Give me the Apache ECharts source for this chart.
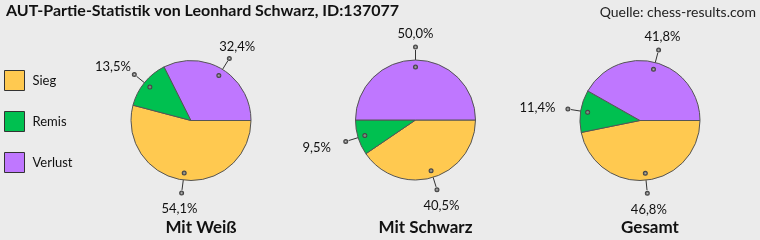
<!DOCTYPE html>
<html>
<head>
<meta charset="utf-8">
<script src="https://cdn.jsdelivr.net/npm/echarts@6/dist/echarts.min.js"></script>
<style>
html,body{margin:0;padding:0;background:#ebebeb;}
#c{width:760px;height:240px;}
</style>
</head>
<body>
<div id="c"></div>
<script>
// ---- data ----
const categories = ['Sieg', 'Remis', 'Verlust'];
const pieTitles = ['Mit Weiß', 'Mit Schwarz', 'Gesamt'];
const weissValues = [54.1, 13.5, 32.4];
const schwarzValues = [40.5, 9.5, 50.0];
const gesamtValues = [46.8, 11.4, 41.8];
const mainTitle = 'AUT-Partie-Statistik von Leonhard Schwarz, ID:137077';
const sourceText = 'Quelle: chess-results.com';

// ---- styles / layout ----
const colors = ['#FFC950', '#00C050', '#BF77FF'];
const FONT = 'Lato';
const centers = [[191, 120.5], [415.5, 120], [640, 120.5]];
const R = 60;

const allValues = [weissValues, schwarzValues, gesamtValues];
const fmt = v => v.toFixed(1).replace('.', ',') + '%';

function midAngles(vals) {
  const tot = vals.reduce((a, b) => a + b, 0);
  let acc = 0;
  return vals.map(v => { const m = (acc + v / 2) / tot * 2 * Math.PI; acc += v; return m; });
}

const transparent = { color: 'rgba(0,0,0,0)', borderWidth: 0 };
const noHide = { hideOverlap: false };
const series = [];
allValues.forEach((vals, i) => {
  series.push({
    type: 'pie', center: centers[i], radius: R, startAngle: 0, clockwise: true,
    silent: true, animation: false, avoidLabelOverlap: false,
    label: { show: false }, labelLine: { show: false },
    itemStyle: { borderColor: '#555', borderWidth: 1 },
    data: vals.map((v, k) => ({ name: categories[k], value: v, itemStyle: { color: colors[k] } }))
  });
});
allValues.forEach((vals, i) => {
  // leader lines
  series.push({
    type: 'pie', center: centers[i], radius: [0, 50], startAngle: 0, clockwise: true,
    silent: true, animation: false, avoidLabelOverlap: false, itemStyle: transparent,
    labelLayout: noHide,
    label: { show: true, position: 'outside', formatter: '.', fontSize: 1, color: 'rgba(0,0,0,0)', distanceToLabelLine: 0 },
    labelLine: { show: true, length: 20, length2: 0.01, smooth: false, minTurnAngle: 0, maxSurfaceAngle: 180,
      lineStyle: { color: '#333', width: 1 } },
    data: vals.map((v, k) => ({ name: categories[k], value: v }))
  });
  // dots at both ends
  [[48, 52], [68, 72]].forEach(rr => {
    series.push({
      type: 'pie', center: centers[i], radius: rr, startAngle: 0, clockwise: true,
      silent: true, animation: false, avoidLabelOverlap: false, itemStyle: transparent,
      labelLayout: noHide,
      labelLine: { show: false },
      label: { show: true, position: 'inside', formatter: '{d|}',
        rich: { d: { width: 3, height: 3, borderColor: '#444', borderWidth: 1, borderRadius: 3, backgroundColor: 'rgba(255,255,255,0.3)' } } },
      data: vals.map((v, k) => ({ name: categories[k], value: v }))
    });
  });
  // percentage labels
  const mids = midAngles(vals);
  series.push({
    type: 'pie', center: centers[i], radius: [84, 86], startAngle: 0, clockwise: true,
    silent: true, animation: false, avoidLabelOverlap: false, itemStyle: transparent,
    labelLayout: noHide,
    labelLine: { show: false },
    label: { show: true, position: 'inside', fontFamily: FONT, fontSize: 13, color: '#111' },
    data: vals.map((v, k) => {
      const c = Math.cos(mids[k]);
      return { name: categories[k], value: v,
        label: { formatter: fmt(v), offset: [c < 0 ? -c * c * 16 : 0, 1.5] } };
    })
  });
});

const chart = echarts.init(document.getElementById('c'), null, { renderer: 'canvas' });
chart.setOption({
  backgroundColor: '#ebebeb',
  animation: false,
  title: [
    { text: mainTitle, left: 6, top: 3, padding: 0,
      textStyle: { fontFamily: FONT, fontSize: 16, fontWeight: 'bold', color: '#111' } },
    { text: sourceText, right: 4, top: 5, padding: 0,
      textStyle: { fontFamily: FONT, fontSize: 14, fontWeight: 'normal', color: '#222' } }
  ],
  legend: {
    orient: 'vertical', left: 4, top: 70, padding: 0,
    itemWidth: 20, itemHeight: 20, itemGap: 20, icon: 'rect',
    selectedMode: false,
    textStyle: { fontFamily: FONT, fontSize: 13, color: '#111', padding: [0, 0, 0, 3] },
    data: categories.map((c, k) => ({ name: c, itemStyle: { color: colors[k], borderColor: '#333', borderWidth: 1 } }))
  },
  graphic: pieTitles.map((t, i) => ({
    type: 'text', x: centers[i][0] + 10, y: 228,
    style: { text: t, align: 'center', verticalAlign: 'middle', fontFamily: FONT, fontSize: 17, fontWeight: 'bold', fill: '#111' }
  })),
  series: series
});
</script>
</body>
</html>
